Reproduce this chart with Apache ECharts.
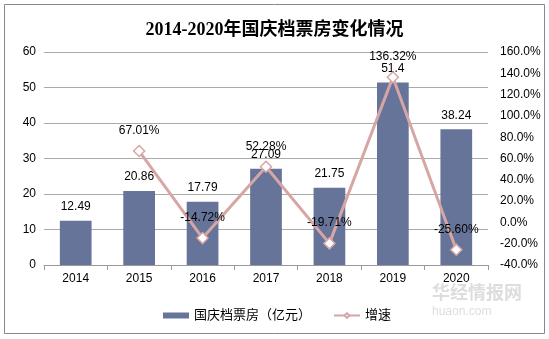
<!DOCTYPE html>
<html><head><meta charset="utf-8">
<script src="https://cdn.jsdelivr.net/npm/echarts@6/dist/echarts.min.js"></script>
<style>html,body{margin:0;padding:0;background:#fff}#c{width:549px;height:339px}</style>
</head><body><div id="c"></div>
<script>
var categories = ['2014','2015','2016','2017','2018','2019','2020'];
var boxOffice = [12.49, 20.86, 17.79, 27.09, 21.75, 51.4, 38.24];
var growth = [null, 67.01, -14.72, 52.28, -19.71, 136.32, -25.60];
var titleText = '2014-2020年国庆档票房变化情况';
var barName = '国庆档票房（亿元）';
var lineName = '增速';

var chart = echarts.init(document.getElementById('c'), null, {renderer:'canvas'});
var font = 'Liberation Sans, Arial, Noto Sans CJK SC, sans-serif';
chart.setOption({
  animation:false,
  backgroundColor:'#fff',
  title:{text:titleText,left:'center',top:16,textStyle:{fontFamily:'Liberation Serif, Noto Sans CJK SC, serif',fontWeight:'bold',fontSize:18,color:'#000'}},
  graphic:[
    {type:'rect',shape:{x:4.5,y:4.5,width:540,height:329},style:{fill:'none',stroke:'#888',lineWidth:1},silent:true},
    {type:'text',left:432,top:283,style:{text:'华经情报网',fill:'#ddd',font:'bold 18px Noto Sans CJK SC'}},
    {type:'text',left:432,top:306,style:{text:'huaon.com',fill:'#ddd',font:'12px Liberation Sans'}}
  ],
  legend:{bottom:12,left:158,itemGap:22,itemWidth:26,itemHeight:6,textStyle:{fontFamily:font,fontSize:13,color:'#000'},
    data:[{name:barName,icon:'rect'},{name:lineName}]},
  grid:{left:44,right:61,top:52,bottom:74},
  xAxis:{type:'category',data:categories,
    axisLine:{lineStyle:{color:'#999'}},axisTick:{show:true,lineStyle:{color:'#999'},length:5},
    axisLabel:{color:'#000',fontSize:12,fontFamily:font,margin:8}},
  yAxis:[
    {type:'value',min:0,max:60,interval:10,axisLine:{show:false},axisTick:{show:false},
      splitLine:{lineStyle:{color:'#aaa'}},axisLabel:{color:'#000',fontSize:12,fontFamily:font,margin:8}},
    {type:'value',min:-40,max:160,interval:20,axisLine:{show:false},axisTick:{show:false},splitLine:{show:false},
      axisLabel:{color:'#000',fontSize:12,fontFamily:font,margin:12,formatter:function(v){return v.toFixed(1)+'%';}}}
  ],
  series:[
    {name:barName,type:'bar',data:boxOffice,barWidth:'50%',itemStyle:{color:'#67749A'},
      label:{show:true,position:'top',distance:8,color:'#000',fontSize:12,fontFamily:font}},
    {name:lineName,type:'line',yAxisIndex:1,data:growth,symbol:'diamond',symbolSize:11,
      lineStyle:{color:'#D6A6A4',width:3},itemStyle:{color:'#fff',borderColor:'#D6A6A4',borderWidth:1.5},
      label:{show:true,position:'top',distance:8,color:'#000',fontSize:12,fontFamily:font,formatter:function(p){return p.value.toFixed(2)+'%';}},
      z:5}
  ]
});
</script></body></html>
